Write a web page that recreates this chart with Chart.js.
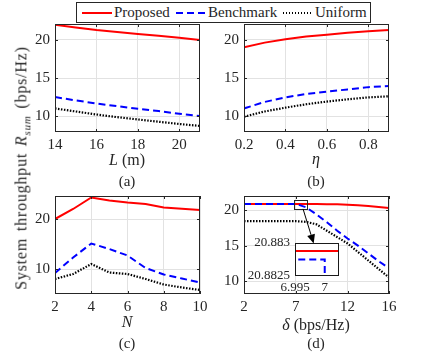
<!DOCTYPE html>
<html><head><meta charset="utf-8">
<script src="https://cdn.jsdelivr.net/npm/chart.js@4"></script>
<style>
html,body{margin:0;padding:0;background:#fff;}
#wrap{position:relative;width:429px;height:358px;overflow:hidden;font-family:'Liberation Serif','Times New Roman',serif;color:#262626;}
canvas{position:absolute;left:0;top:0;pointer-events:none;}
.lbl{position:absolute;white-space:nowrap;font-size:15px;transform:translate(-50%,-50%);line-height:1;z-index:5;}
.xt{font-size:16px;}
#ytitle{position:absolute;left:23px;top:168px;transform:translate(-50%,-50%) rotate(-90deg);white-space:nowrap;font-size:16px;word-spacing:2px;letter-spacing:0.8px;line-height:1;z-index:5;}
#legend{position:absolute;left:76px;top:2px;width:293px;height:19px;border:1px solid #262626;background:#fff;z-index:6;}
#legend .s{position:absolute;top:9px;height:2px;width:30px;}
#legend .t{position:absolute;top:1px;font-size:15px;line-height:17px;}
</style>
</head><body>
<div id="wrap">
  <canvas id="ca" width="429" height="358"></canvas>
  <canvas id="cb" width="429" height="358"></canvas>
  <canvas id="cc" width="429" height="358"></canvas>
  <canvas id="cd" width="429" height="358"></canvas>
  <canvas id="ci" width="429" height="358"></canvas>
  <div id="legend">
    <div class="s" style="left:5px;background:#ff0000;"></div>
    <div class="t" style="left:37px;">Proposed</div>
    <div class="s" style="left:99px;background:repeating-linear-gradient(90deg,#0000ff 0 7px,transparent 7px 11px);"></div>
    <div class="t" style="left:131px;">Benchmark</div>
    <div class="s" style="left:206px;width:28px;background:repeating-linear-gradient(90deg,#000 0 1.5px,transparent 1.5px 3px);"></div>
    <div class="t" style="left:238px;">Uniform</div>
  </div>
  <div id="ytitle">System throughput <i>R<sub style="font-size:11px;">sum</sub></i> (bps/Hz)</div>
  <div class="lbl xt" style="left:127px;top:160px;"><i>L</i> (m)</div>
  <div class="lbl xt" style="left:316px;top:159px;"><i>η</i></div>
  <div class="lbl xt" style="left:127px;top:322px;"><i>N</i></div>
  <div class="lbl xt" style="left:316px;top:325px;"><i>δ</i> (bps/Hz)</div>
  <div class="lbl" style="left:127px;top:181px;">(a)</div>
  <div class="lbl" style="left:316px;top:181px;">(b)</div>
  <div class="lbl" style="left:127px;top:343px;">(c)</div>
  <div class="lbl" style="left:316px;top:343px;">(d)</div>
</div>
<script>
// ---------- data ----------
const seriesNames = ['Proposed','Benchmark','Uniform'];

// (a) versus L (m)
const L_vals      = [14, 15, 16, 17, 18, 19, 20, 21];
const a_proposed  = [22.0, 21.65, 21.3, 21.05, 20.8, 20.55, 20.3, 20.0];
const a_benchmark = [12.5, 12.05, 11.65, 11.3, 10.95, 10.65, 10.3, 10.0];
const a_uniform   = [11.0, 10.6, 10.2, 9.85, 9.55, 9.25, 8.95, 8.7];
const a_xTicks = [14, 16, 18, 20];
const a_xTickLabels = ['14', '16', '18', '20'];

// (b) versus eta
const eta_vals    = [0.2, 0.3, 0.4, 0.5, 0.6, 0.7, 0.8, 0.9];
const b_proposed  = [19.05, 19.65, 20.1, 20.45, 20.7, 20.95, 21.15, 21.3];
const b_benchmark = [11.0, 11.85, 12.45, 12.9, 13.2, 13.5, 13.8, 13.95];
const b_uniform   = [9.9, 10.6, 11.1, 11.55, 11.9, 12.2, 12.45, 12.6];
const b_xTicks = [0.2, 0.4, 0.6, 0.8];
const b_xTickLabels = ['0.2', '0.4', '0.6', '0.8'];

const ab_yTicks = [10, 15, 20];
const ab_yTickLabels = ['10', '15', '20'];

// (c) versus N
const N_vals      = [2, 3, 4, 5, 6, 7, 8, 9, 10];
const c_proposed  = [20.0, 22.0, 24.3, 23.7, 23.3, 23.0, 22.3, 22.05, 21.8];
const c_benchmark = [9.2, 12.3, 15.1, 14.0, 12.7, 10.2, 8.9, 8.1, 7.3];
const c_uniform   = [8.0, 9.0, 11.0, 9.3, 9.0, 8.0, 6.9, 6.3, 5.8];
const c_xTicks = [2, 4, 6, 8, 10];
const c_xTickLabels = ['2', '4', '6', '8', '10'];
const c_yTicks = [10, 20];
const c_yTickLabels = ['10', '20'];

// (d) versus delta (bps/Hz)
const delta_vals  = [2, 3, 4, 5, 6, 7, 8, 9, 10, 11, 12, 13, 14, 15, 16];
const d_proposed  = [20.883, 20.883, 20.883, 20.883, 20.883, 20.883, 20.88, 20.87, 20.85, 20.82, 20.78, 20.7, 20.6, 20.45, 20.3];
const d_benchmark = [20.883, 20.883, 20.883, 20.883, 20.883, 20.883, 20.4, 19.4, 18.3, 17.1, 16.0, 15.0, 13.9, 12.8, 11.8];
const d_uniform   = [18.45, 18.45, 18.45, 18.45, 18.45, 18.45, 18.35, 18.0, 17.1, 16.2, 15.3, 14.1, 12.9, 11.7, 10.5];
const d_xTicks = [2, 7, 12, 16];
const d_xTickLabels = ['2', '7', '12', '16'];
const d_yTicks = [10, 15, 20];
const d_yTickLabels = ['10', '15', '20'];

// (d) zoomed inset
const inset_delta     = [6.99, 7.0, 7.00001, 7.01];
const inset_proposed  = [20.88288, 20.88288, 20.88288, 20.88288];
const inset_benchmark = [20.88275, 20.88275, 20.8800, 20.8800];
const inset_xTicks = [6.995, 7];
const inset_xTickLabels = ['6.995', '7'];
const inset_yTicks = [20.8825, 20.883];
const inset_yTickLabels = ['20.8825', '20.883'];

// zoom marker and arrow in (d), in data units
const zoomBox = {x0: 6.83, x1: 8.12, y0: 20.18, y1: 21.4};
const arrowFrom = {x: 7.7, y: 20.18};
const arrowTo = {x: 8.73, y: 15.3};

// ---------- styling ----------
const COLORS = ['#ff0000', '#0000ff', '#000000'];
const DASHES = [[], [7, 4], [1.5, 1.5]];
const WIDTHS = [2, 2, 2.2];
const ORDERS = [3, 2, 1];
const FONT = "'Liberation Serif', 'Times New Roman', serif";
const W = 429, H = 358;

const boxPlugin = {
  id: 'box',
  afterDatasetsDraw(chart, args, opts) {
    const {ctx, chartArea: a, scales} = chart;
    ctx.save();
    if (opts.ticks) {
      ctx.strokeStyle = '#262626'; ctx.lineWidth = 1;
      const len = 3;
      ctx.beginPath();
      scales.x.ticks.forEach(t => {
        const px = Math.round(scales.x.getPixelForValue(t.value)) + 0.5;
        ctx.moveTo(px, a.bottom); ctx.lineTo(px, a.bottom - len);
        ctx.moveTo(px, a.top); ctx.lineTo(px, a.top + len);
      });
      scales.y.ticks.forEach(t => {
        const py = Math.round(scales.y.getPixelForValue(t.value)) + 0.5;
        ctx.moveTo(a.left, py); ctx.lineTo(a.left + len, py);
        ctx.moveTo(a.right, py); ctx.lineTo(a.right - len, py);
      });
      ctx.stroke();
    }
    ctx.strokeStyle = opts.color || '#262626'; ctx.lineWidth = 1;
    ctx.strokeRect(Math.round(a.left) + 0.5, Math.round(a.top) + 0.5,
                   Math.round(a.right - a.left) - 1, Math.round(a.bottom - a.top) - 1);
    ctx.restore();
  }
};

const whiteAreaPlugin = {
  id: 'whiteArea',
  beforeDraw(chart, args, opts) {
    if (!opts.on) return;
    const {ctx, chartArea: a} = chart;
    ctx.save(); ctx.fillStyle = '#fff';
    ctx.fillRect(a.left, a.top, a.right - a.left, a.bottom - a.top);
    ctx.restore();
  }
};

const arrowPlugin = {
  id: 'zoomArrow',
  afterDatasetsDraw(chart, args, opts) {
    if (!opts.on) return;
    const {ctx, scales: {x, y}} = chart;
    ctx.save();
    ctx.strokeStyle = '#262626'; ctx.lineWidth = 1;
    const rx0 = x.getPixelForValue(zoomBox.x0), rx1 = x.getPixelForValue(zoomBox.x1);
    const ry0 = y.getPixelForValue(zoomBox.y0), ry1 = y.getPixelForValue(zoomBox.y1);
    ctx.strokeRect(Math.round(rx0) + 0.5, Math.round(ry1) + 0.5, Math.round(rx1 - rx0), Math.round(ry0 - ry1));
    const fx = x.getPixelForValue(arrowFrom.x), fy = y.getPixelForValue(arrowFrom.y);
    const tx = x.getPixelForValue(arrowTo.x), ty = y.getPixelForValue(arrowTo.y);
    const ang = Math.atan2(ty - fy, tx - fx);
    const hl = 9, hw = 4;
    const bx = tx - hl * Math.cos(ang), by = ty - hl * Math.sin(ang);
    ctx.strokeStyle = '#000';
    ctx.beginPath(); ctx.moveTo(fx, fy); ctx.lineTo(bx, by); ctx.stroke();
    ctx.fillStyle = '#000';
    ctx.beginPath();
    ctx.moveTo(tx, ty);
    ctx.lineTo(bx + hw * Math.sin(ang), by - hw * Math.cos(ang));
    ctx.lineTo(bx - hw * Math.sin(ang), by + hw * Math.cos(ang));
    ctx.closePath(); ctx.fill();
    ctx.restore();
  }
};

function makeDatasets(xs, ys) {
  return ys.map((arr, i) => ({
    label: seriesNames[i],
    data: arr.map((v, k) => ({x: xs[k], y: v})),
    borderColor: COLORS[i],
    borderDash: DASHES[i],
    borderWidth: WIDTHS[i],
    order: ORDERS[i],
    pointRadius: 0,
    tension: 0,
    fill: false
  }));
}

function makeChart(id, o) {
  const YW = o.yw || 40, XH = o.xh || 30;
  return new Chart(document.getElementById(id), {
    type: 'line',
    data: {datasets: o.datasets},
    plugins: [whiteAreaPlugin, boxPlugin, arrowPlugin],
    options: {
      responsive: false, animation: false, events: [],
      layout: {padding: {left: o.area.l - YW, top: o.area.t, right: W - o.area.r, bottom: H - o.area.b - XH}},
      plugins: {
        legend: {display: false}, tooltip: {enabled: false}, title: {display: false},
        box: {ticks: !o.inset, color: o.inset ? '#1a1a1a' : '#262626'},
        whiteArea: {on: !!o.inset},
        zoomArrow: {on: !!o.arrow}
      },
      scales: {
        x: {
          type: 'linear', min: o.xr[0], max: o.xr[1],
          afterBuildTicks: s => { s.ticks = o.xTicks.map(v => ({value: v})); },
          afterFit: s => { s.height = XH; },
          grid: {display: !o.inset, color: '#e2e2e2', drawTicks: false},
          border: {display: false},
          ticks: {autoSkip: false, maxRotation: 0, padding: 4, color: '#262626',
                  font: {family: FONT, size: o.fs || 15},
                  callback: (v, i) => o.xTickLabels[i]}
        },
        y: {
          type: 'linear', min: o.yr[0], max: o.yr[1],
          afterBuildTicks: s => { s.ticks = o.yTicks.map(v => ({value: v})); },
          afterFit: s => { s.width = YW; },
          grid: {display: !o.inset, color: '#e2e2e2', drawTicks: false},
          border: {display: false},
          ticks: {autoSkip: false, padding: 5, color: '#262626',
                  font: {family: FONT, size: o.fs || 15},
                  callback: (v, i) => o.yTickLabels[i]}
        }
      }
    }
  });
}

makeChart('ca', {
  area: {l: 55, t: 24, r: 200, b: 132}, xr: [14, 21], yr: [7.9, 22.1],
  xTicks: a_xTicks, xTickLabels: a_xTickLabels, yTicks: ab_yTicks, yTickLabels: ab_yTickLabels,
  datasets: makeDatasets(L_vals, [a_proposed, a_benchmark, a_uniform])
});
makeChart('cb', {
  area: {l: 244, t: 24, r: 389, b: 132}, xr: [0.2, 0.9], yr: [7.9, 22.1],
  xTicks: b_xTicks, xTickLabels: b_xTickLabels, yTicks: ab_yTicks, yTickLabels: ab_yTickLabels,
  datasets: makeDatasets(eta_vals, [b_proposed, b_benchmark, b_uniform])
});
makeChart('cc', {
  area: {l: 55, t: 196, r: 200, b: 294}, xr: [2, 10], yr: [5, 24.6],
  xTicks: c_xTicks, xTickLabels: c_xTickLabels, yTicks: c_yTicks, yTickLabels: c_yTickLabels,
  datasets: makeDatasets(N_vals, [c_proposed, c_benchmark, c_uniform])
});
makeChart('cd', {
  area: {l: 244, t: 196, r: 389, b: 294}, xr: [2, 16], yr: [8.17, 22.0],
  xTicks: d_xTicks, xTickLabels: d_xTickLabels, yTicks: d_yTicks, yTickLabels: d_yTickLabels,
  datasets: makeDatasets(delta_vals, [d_proposed, d_benchmark, d_uniform]), arrow: true
});
makeChart('ci', {
  area: {l: 295, t: 243, r: 339, b: 276}, xr: [6.995, 7.0024], yr: [20.8825, 20.883],
  xTicks: inset_xTicks, xTickLabels: inset_xTickLabels, yTicks: inset_yTicks, yTickLabels: inset_yTickLabels,
  datasets: makeDatasets(inset_delta, [inset_proposed, inset_benchmark]),
  inset: true, yw: 60, xh: 22, fs: 13
});
</script>
</body></html>
